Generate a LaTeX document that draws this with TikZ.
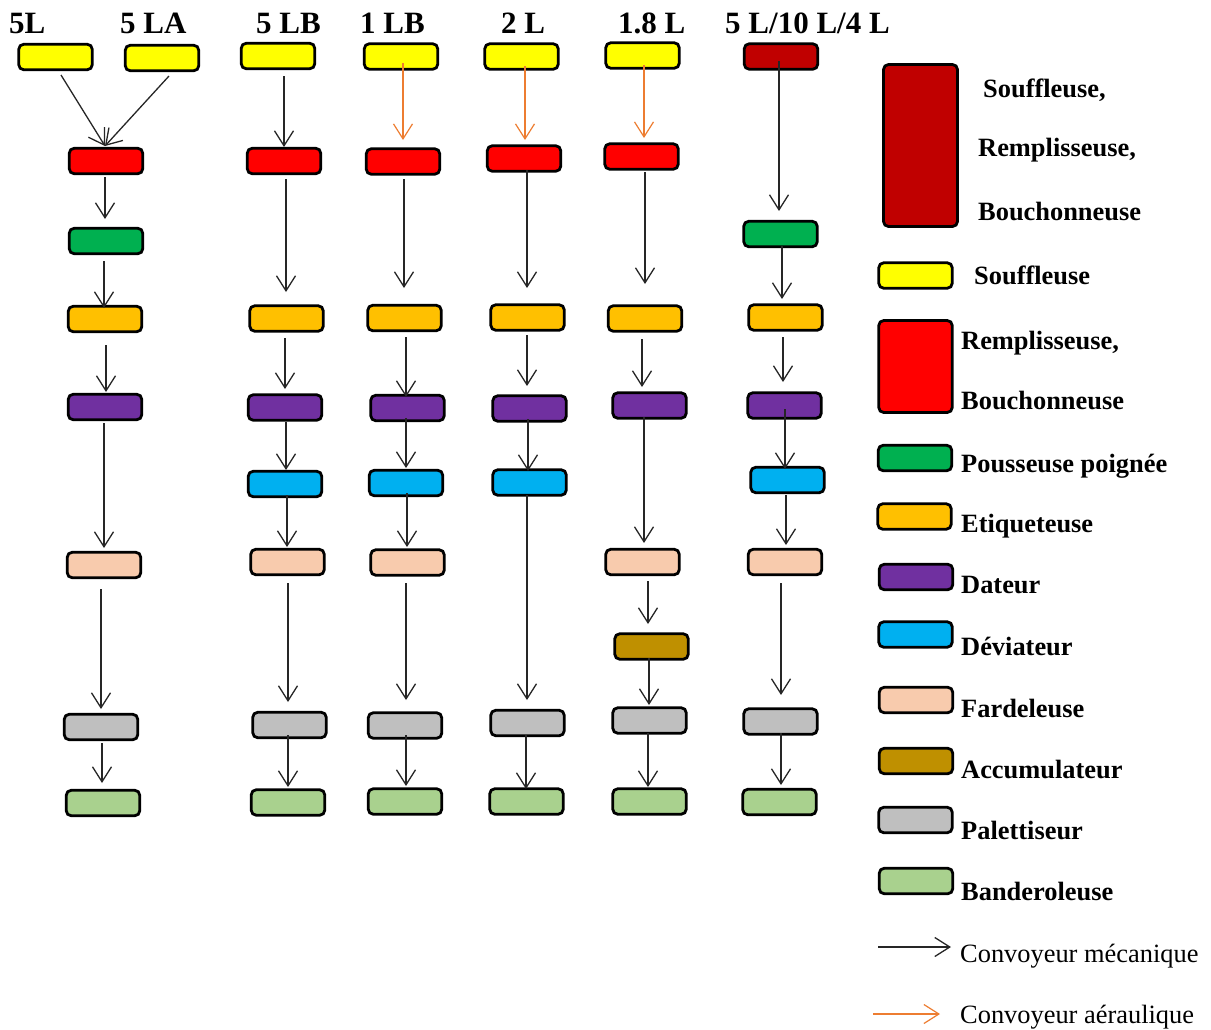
\documentclass[tikz,border=0pt]{standalone}
\usepackage{fontspec}
\setmainfont{Liberation Serif}
\usetikzlibrary{arrows.meta}
\definecolor{cyel}{RGB}{255,255,0}
\definecolor{cred}{RGB}{255,0,0}
\definecolor{cdred}{RGB}{192,0,0}
\definecolor{cgreen}{RGB}{0,176,80}
\definecolor{corange}{RGB}{255,192,0}
\definecolor{cpurple}{RGB}{112,48,160}
\definecolor{cblue}{RGB}{0,176,240}
\definecolor{cpeach}{RGB}{248,203,173}
\definecolor{caccu}{RGB}{191,144,0}
\definecolor{cgray}{RGB}{191,191,191}
\definecolor{clgreen}{RGB}{169,209,142}
\definecolor{cair}{RGB}{237,125,49}
\newcommand\conn[7]{\draw[#1] ([shift={(#3,#4)}]#2.center) -- ([shift={(#6,#7)}]#5.center);}
\begin{document}
\begin{tikzpicture}[x=1pt,y=-1pt,
  machine/.style={draw=black, line width=2.8pt, rounded corners=5pt, minimum width=73.5pt, minimum height=25.5pt, inner sep=0pt, outer sep=0pt},
  mec/.style={draw=black!85, line width=1.3pt, -{Straight Barb[length=15pt,width=19pt]}},
  air/.style={draw=cair, line width=1.2pt, -{Straight Barb[length=15pt,width=19pt]}},
  head/.style={anchor=base west, inner sep=0pt, font=\fontsize{31}{31}\selectfont\bfseries},
  leg/.style={anchor=base west, inner sep=0pt, font=\fontsize{26.4}{26}\selectfont\bfseries},
  legr/.style={anchor=base west, inner sep=0pt, font=\fontsize{26.4}{26}\selectfont}]
\useasboundingbox (0,0) rectangle (1211,1029);
% headers
\node[head] (h1) at (9,33) {5L};
\node[head] (h2) at (120,33) {5 LA};
\node[head] (h3) at (256,33) {5 LB};
\node[head] (h4) at (360,33) {1 LB};
\node[head] (h5) at (501,33) {2 L};
\node[head] (h6) at (618,33) {1.8 L};
\node[head] (h7) at (725,33) {5 L/10 L/4 L};
% column 1
\node[machine, fill=cyel] (a1) at (55.5,57) {};
\node[machine, fill=cyel] (a2) at (162,58) {};
\node[machine, fill=cred] (r1) at (106,161) {};
\node[machine, fill=cgreen] (g1) at (106,241) {};
\node[machine, fill=corange] (o1) at (105,319) {};
\node[machine, fill=cpurple] (p1) at (105,407) {};
\node[machine, fill=cpeach] (f1) at (104,565) {};
\node[machine, fill=cgray] (gr1) at (101,727) {};
\node[machine, fill=clgreen] (lg1) at (103,803) {};
% column 2
\node[machine, fill=cyel] (y2) at (278,56) {};
\node[machine, fill=cred] (r2) at (284,161) {};
\node[machine, fill=corange] (o2) at (286.5,318.5) {};
\node[machine, fill=cpurple] (p2) at (285,407.5) {};
\node[machine, fill=cblue] (b2) at (285,484) {};
\node[machine, fill=cpeach] (f2) at (287.5,562) {};
\node[machine, fill=cgray] (gr2) at (289.5,725) {};
\node[machine, fill=clgreen] (lg2) at (288,802.5) {};
% column 3
\node[machine, fill=cyel] (y3) at (401,56.5) {};
\node[machine, fill=cred] (r3) at (403,161.5) {};
\node[machine, fill=corange] (o3) at (404.5,318) {};
\node[machine, fill=cpurple] (p3) at (407.5,408) {};
\node[machine, fill=cblue] (b3) at (406,483) {};
\node[machine, fill=cpeach] (f3) at (407.5,562.5) {};
\node[machine, fill=cgray] (gr3) at (405,725.5) {};
\node[machine, fill=clgreen] (lg3) at (405,801.5) {};
% column 4
\node[machine, fill=cyel] (y4) at (521.5,56.5) {};
\node[machine, fill=cred] (r4) at (524,158.5) {};
\node[machine, fill=corange] (o4) at (527.5,317.5) {};
\node[machine, fill=cpurple] (p4) at (529.5,408.5) {};
\node[machine, fill=cblue] (b4) at (529.5,482.5) {};
\node[machine, fill=cgray] (gr4) at (527.5,723) {};
\node[machine, fill=clgreen] (lg4) at (526.5,801.5) {};
% column 5
\node[machine, fill=cyel] (y5) at (642.5,55.5) {};
\node[machine, fill=cred] (r5) at (641.5,156.5) {};
\node[machine, fill=corange] (o5) at (645,318.5) {};
\node[machine, fill=cpurple] (p5) at (649.5,405.5) {};
\node[machine, fill=cpeach] (f5) at (642.5,562) {};
\node[machine, fill=caccu] (ac5) at (651.5,646.5) {};
\node[machine, fill=cgray] (gr5) at (649.5,720.5) {};
\node[machine, fill=clgreen] (lg5) at (649.5,801.5) {};
% column 6
\node[machine, fill=cdred] (dr6) at (781,56.5) {};
\node[machine, fill=cgreen] (g6) at (780.5,234) {};
\node[machine, fill=corange] (o6) at (785.5,317.5) {};
\node[machine, fill=cpurple] (p6) at (784.5,405.5) {};
\node[machine, fill=cblue] (b6) at (787.5,480) {};
\node[machine, fill=cpeach] (f6) at (785,562) {};
\node[machine, fill=cgray] (gr6) at (780.5,721.5) {};
\node[machine, fill=clgreen] (lg6) at (779.5,802) {};
% connectors column 1
\conn{mec}{a1}{5.5}{18}{r1}{-1}{-15}
\conn{mec}{a2}{7}{18}{r1}{-1}{-15}
\conn{mec}{r1}{-1}{16}{g1}{-1}{-22}
\conn{mec}{g1}{-2}{20}{o1}{-1}{-11}
\conn{mec}{o1}{1}{26}{p1}{1}{-15}
\conn{mec}{p1}{-1}{16}{f1}{0}{-17}
\conn{mec}{f1}{-3}{24}{gr1}{0}{-18}
\conn{mec}{gr1}{1}{16}{lg1}{-1}{-20}
% column 2
\conn{mec}{y2}{6}{20}{r2}{0}{-14}
\conn{mec}{r2}{2}{18}{o2}{-0.5}{-26.5}
\conn{mec}{o2}{-1.5}{19.5}{p2}{0}{-18.5}
\conn{mec}{p2}{1}{14.5}{b2}{1}{-14}
\conn{mec}{b2}{2}{11}{f2}{-0.5}{-15}
\conn{mec}{f2}{0.5}{21}{gr2}{-1.5}{-23}
\conn{mec}{gr2}{-1.5}{10}{lg2}{0}{-15.5}
% column 3
\conn{air}{y3}{2}{6.5}{r3}{0}{-21.5}
\conn{mec}{r3}{1}{17.5}{o3}{-0.5}{-30}
\conn{mec}{o3}{1.5}{19}{p3}{-1.5}{-11}
\conn{mec}{p3}{-1.5}{10}{b3}{0}{-15}
\conn{mec}{b3}{1}{10}{f3}{-0.5}{-15.5}
\conn{mec}{f3}{-1.5}{20.5}{gr3}{1}{-25.5}
\conn{mec}{gr3}{1}{9.5}{lg3}{1}{-15.5}
% column 4
\conn{air}{y4}{3.5}{9.5}{r4}{1}{-18.5}
\conn{mec}{r4}{3}{11.5}{o4}{-0.5}{-29.5}
\conn{mec}{o4}{-0.5}{17.5}{p4}{-2.5}{-22.5}
\conn{mec}{p4}{-1.5}{10.5}{b4}{-1.5}{-11.5}
\conn{mec}{b4}{-2.5}{12.5}{gr4}{-0.5}{-23}
\conn{mec}{gr4}{-1.5}{12}{lg4}{-0.5}{-12.5}
% column 5
\conn{air}{y5}{1.5}{9.5}{r5}{2.5}{-18.5}
\conn{mec}{r5}{3.5}{15.5}{o5}{0}{-34.5}
\conn{mec}{o5}{-3}{20.5}{p5}{-7.5}{-18.5}
\conn{mec}{p5}{-5.5}{11.5}{f5}{1.5}{-19}
\conn{mec}{f5}{5.5}{19}{ac5}{-3.5}{-22.5}
\conn{mec}{ac5}{-2.5}{11.5}{gr5}{-0.5}{-15.5}
\conn{mec}{gr5}{-1.5}{12.5}{lg5}{-1.5}{-14.5}
% column 6
\conn{mec}{dr6}{-2}{4.5}{g6}{-1.5}{-23}
\conn{mec}{g6}{1.5}{12}{o6}{-3.5}{-18.5}
\conn{mec}{o6}{-2.5}{19.5}{p6}{-1.5}{-23.5}
\conn{mec}{p6}{0.5}{3.5}{b6}{-2.5}{-11}
\conn{mec}{b6}{-1.5}{15}{f6}{1}{-17}
\conn{mec}{f6}{-4}{21}{gr6}{0.5}{-26.5}
\conn{mec}{gr6}{0.5}{11.5}{lg6}{1.5}{-17}
% legend
\node[machine, fill=cdred, minimum width=74pt, minimum height=162pt] (L1) at (920.5,145.5) {};
\node[leg] (t1a) at (983,97) {Souffleuse,};
\node[leg] (t1b) at (978,156) {Remplisseuse,};
\node[leg] (t1c) at (978,220) {Bouchonneuse};
\node[machine, fill=cyel] (L2) at (915.5,275.5) {};
\node[leg] (t2) at (974,284) {Souffleuse};
\node[machine, fill=cred, minimum height=92pt] (L3) at (915.5,366.5) {};
\node[leg] (t3a) at (961,349) {Remplisseuse,};
\node[leg] (t3b) at (961,409) {Bouchonneuse};
\node[machine, fill=cgreen] (L4) at (915,458) {};
\node[leg] (t4) at (961,472) {Pousseuse poignée};
\node[machine, fill=corange] (L5) at (914.5,516.5) {};
\node[leg] (t5) at (961,532) {Etiqueteuse};
\node[machine, fill=cpurple] (L6) at (916,577) {};
\node[leg] (t6) at (961,593) {Dateur};
\node[machine, fill=cblue] (L7) at (915.5,634.5) {};
\node[leg] (t7) at (961,655) {Déviateur};
\node[machine, fill=cpeach] (L8) at (916,700) {};
\node[leg] (t8) at (961,717) {Fardeleuse};
\node[machine, fill=caccu] (L9) at (916,761) {};
\node[leg] (t9) at (961,778) {Accumulateur};
\node[machine, fill=cgray] (L10) at (915.5,820) {};
\node[leg] (t10) at (961,839) {Palettiseur};
\node[machine, fill=clgreen] (L11) at (916,881) {};
\node[leg] (t11) at (961,900) {Banderoleuse};
\coordinate (m1) at (878,947);
\coordinate (m2) at (951,947);
\draw[mec] (m1) -- (m2);
\node[legr] (t12) at (960,962) {Convoyeur mécanique};
\coordinate (e1) at (873,1014);
\coordinate (e2) at (940,1014);
\draw[air] (e1) -- (e2);
\node[legr] (t13) at (960,1023) {Convoyeur aéraulique};
\end{tikzpicture}
\end{document}
